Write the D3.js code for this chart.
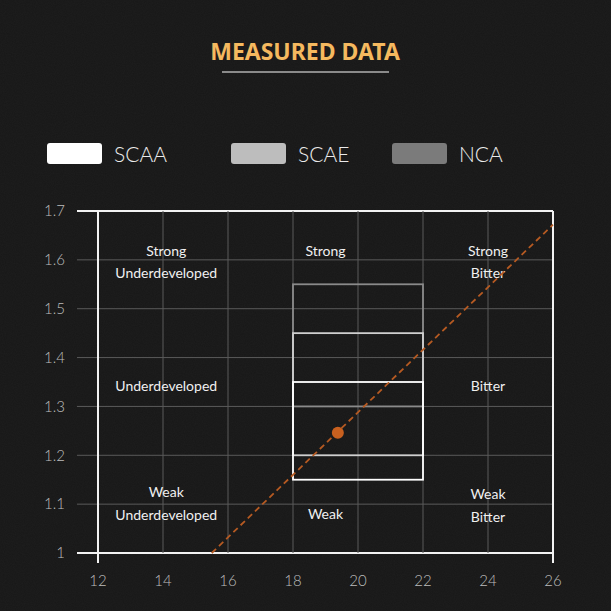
<!DOCTYPE html>
<html>
<head>
<meta charset="utf-8">
<script src="https://cdn.jsdelivr.net/npm/d3@7"></script>
<style>
  html, body { margin: 0; padding: 0; background: #1a1a1a; }
  svg { display: block; }
</style>
</head>
<body>
<div id="chart"></div>
<script>
// legend / standards
var standards = ["NCA", "SCAE", "SCAA"];
var stdColors = ["#7b7b7b", "#bdbdbd", "#ffffff"];
var stdStroke = ["#8a8a8a", "#cfcfcf", "#ffffff"];
var stdExtraction = [[18, 22], [18, 22], [18, 22]];
var stdTds = [[1.30, 1.55], [1.20, 1.45], [1.15, 1.35]];
var legendOrder = ["SCAA", "SCAE", "NCA"];

// axes
var xTicks = [12, 14, 16, 18, 20, 22, 24, 26];
var yTicks = [1, 1.1, 1.2, 1.3, 1.4, 1.5, 1.6, 1.7];
var yTickLabels = ["1", "1.1", "1.2", "1.3", "1.4", "1.5", "1.6", "1.7"];

// measured point + brew ratio line
var measured = [19.38, 1.246];
var ratioLine = [[15.5, 1.0], [26, 1.672]];

// zone labels [extraction, tds, text]
var zoneLabels = [
  [14.1, 1.618, "Strong"], [14.1, 1.573, "Underdeveloped"],
  [19, 1.618, "Strong"],
  [24, 1.618, "Strong"], [24, 1.573, "Bitter"],
  [14.1, 1.342, "Underdeveloped"], [24, 1.342, "Bitter"],
  [14.1, 1.125, "Weak"], [14.1, 1.078, "Underdeveloped"],
  [19, 1.08, "Weak"],
  [24, 1.12, "Weak"], [24, 1.074, "Bitter"]
];

var W = 611, H = 611;
var svg = d3.select("#chart").append("svg").attr("width", W).attr("height", H);

// background with a bit of grain
var defs = svg.append("defs");
var f = defs.append("filter").attr("id", "grain").attr("x", 0).attr("y", 0).attr("width", "100%").attr("height", "100%");
f.append("feTurbulence").attr("type", "fractalNoise").attr("baseFrequency", 0.9).attr("numOctaves", 2).attr("seed", 3);
f.append("feColorMatrix").attr("type", "matrix")
  .attr("values", "0 0 0 0 1  0 0 0 0 1  0 0 0 0 1  0 0 0 0.03 0");
svg.append("rect").attr("width", W).attr("height", H).attr("fill", "#171717");
svg.append("rect").attr("width", W).attr("height", H).attr("filter", "url(#grain)");

// title
svg.append("text")
  .attr("x", 305).attr("y", 60)
  .attr("text-anchor", "middle")
  .attr("font-family", "'Noto Sans', sans-serif")
  .attr("font-weight", "bold")
  .attr("font-size", 23)
  .attr("fill", "#f5b95f")
  .text("MEASURED DATA");
svg.append("line")
  .attr("x1", 222).attr("x2", 389).attr("y1", 72).attr("y2", 72)
  .attr("stroke", "#8a8a8a").attr("stroke-width", 2);

// legend
var legendX = [47, 231, 392];
var lg = svg.selectAll("g.legend").data(legendOrder).enter().append("g")
  .attr("class", "legend")
  .attr("transform", function (d, i) { return "translate(" + legendX[i] + ",143)"; });
lg.append("rect")
  .attr("width", 55).attr("height", 21).attr("rx", 3)
  .attr("fill", function (d) { return stdColors[standards.indexOf(d)]; });
lg.append("text")
  .attr("x", 67).attr("y", 19)
  .attr("font-family", "Lato, sans-serif")
  .attr("font-weight", 300)
  .attr("font-size", 21)
  .attr("fill", "#ebebeb")
  .text(function (d) { return d; });

// scales
var x = d3.scaleLinear().domain([12, 26]).range([98, 553]);
var y = d3.scaleLinear().domain([1, 1.7]).range([553, 211]);

// grid
var g = svg.append("g");
g.selectAll("line.h").data(yTicks).enter().append("line")
  .attr("x1", x(12) - 21).attr("x2", x(26))
  .attr("y1", function (d) { return y(d); }).attr("y2", function (d) { return y(d); })
  .attr("stroke", function (d, i) { return (i == 0 || i == yTicks.length - 1) ? "#f2f2f2" : "#5a5a5a"; })
  .attr("stroke-width", function (d, i) { return (i == 0 || i == yTicks.length - 1) ? 2 : 1; });
g.selectAll("line.v").data(xTicks).enter().append("line")
  .attr("x1", function (d) { return x(d); }).attr("x2", function (d) { return x(d); })
  .attr("y1", y(1.7))
  .attr("y2", function (d, i) { return (i == 0 || i == xTicks.length - 1) ? y(1) + 10 : y(1); })
  .attr("stroke", function (d, i) { return (i == 0 || i == xTicks.length - 1) ? "#f2f2f2" : "#5a5a5a"; })
  .attr("stroke-width", function (d, i) { return (i == 0 || i == xTicks.length - 1) ? 2 : 1; });

// tick labels
g.selectAll("text.y").data(yTicks).enter().append("text")
  .attr("x", 65).attr("y", function (d) { return y(d); })
  .attr("dy", "0.35em")
  .attr("text-anchor", "end")
  .attr("font-family", "Lato, sans-serif")
  .attr("font-weight", 300)
  .attr("font-size", 15)
  .attr("fill", "#bdbdbd")
  .text(function (d, i) { return yTickLabels[i]; });
g.selectAll("text.x").data(xTicks).enter().append("text")
  .attr("x", function (d) { return x(d); }).attr("y", 586)
  .attr("text-anchor", "middle")
  .attr("font-family", "Lato, sans-serif")
  .attr("font-weight", 300)
  .attr("font-size", 15)
  .attr("fill", "#bdbdbd")
  .text(function (d) { return d; });

// standard boxes
svg.selectAll("rect.std").data(standards).enter().append("rect")
  .attr("x", function (d, i) { return x(stdExtraction[i][0]); })
  .attr("width", function (d, i) { return x(stdExtraction[i][1]) - x(stdExtraction[i][0]); })
  .attr("y", function (d, i) { return y(stdTds[i][1]); })
  .attr("height", function (d, i) { return y(stdTds[i][0]) - y(stdTds[i][1]); })
  .attr("fill", "none")
  .attr("stroke", function (d, i) { return stdStroke[i]; })
  .attr("stroke-width", 1.8);

// zone labels
svg.selectAll("text.zone").data(zoneLabels).enter().append("text")
  .attr("x", function (d) { return x(d[0]); })
  .attr("y", function (d) { return y(d[1]); })
  .attr("dy", "0.35em")
  .attr("text-anchor", "middle")
  .attr("font-family", "Lato, sans-serif")
  .attr("font-size", 14)
  .attr("fill", "#f0f0f0")
  .text(function (d) { return d[2]; });

// brew ratio line
svg.append("path")
  .datum(ratioLine)
  .attr("d", d3.line().x(function (d) { return x(d[0]); }).y(function (d) { return y(d[1]); }))
  .attr("fill", "none")
  .attr("stroke", "#b65a22")
  .attr("stroke-width", 1.8)
  .attr("stroke-dasharray", "6,4");

svg.append("circle")
  .attr("cx", x(measured[0])).attr("cy", y(measured[1]))
  .attr("r", 6)
  .attr("fill", "#c8601f");
</script>
</body>
</html>
